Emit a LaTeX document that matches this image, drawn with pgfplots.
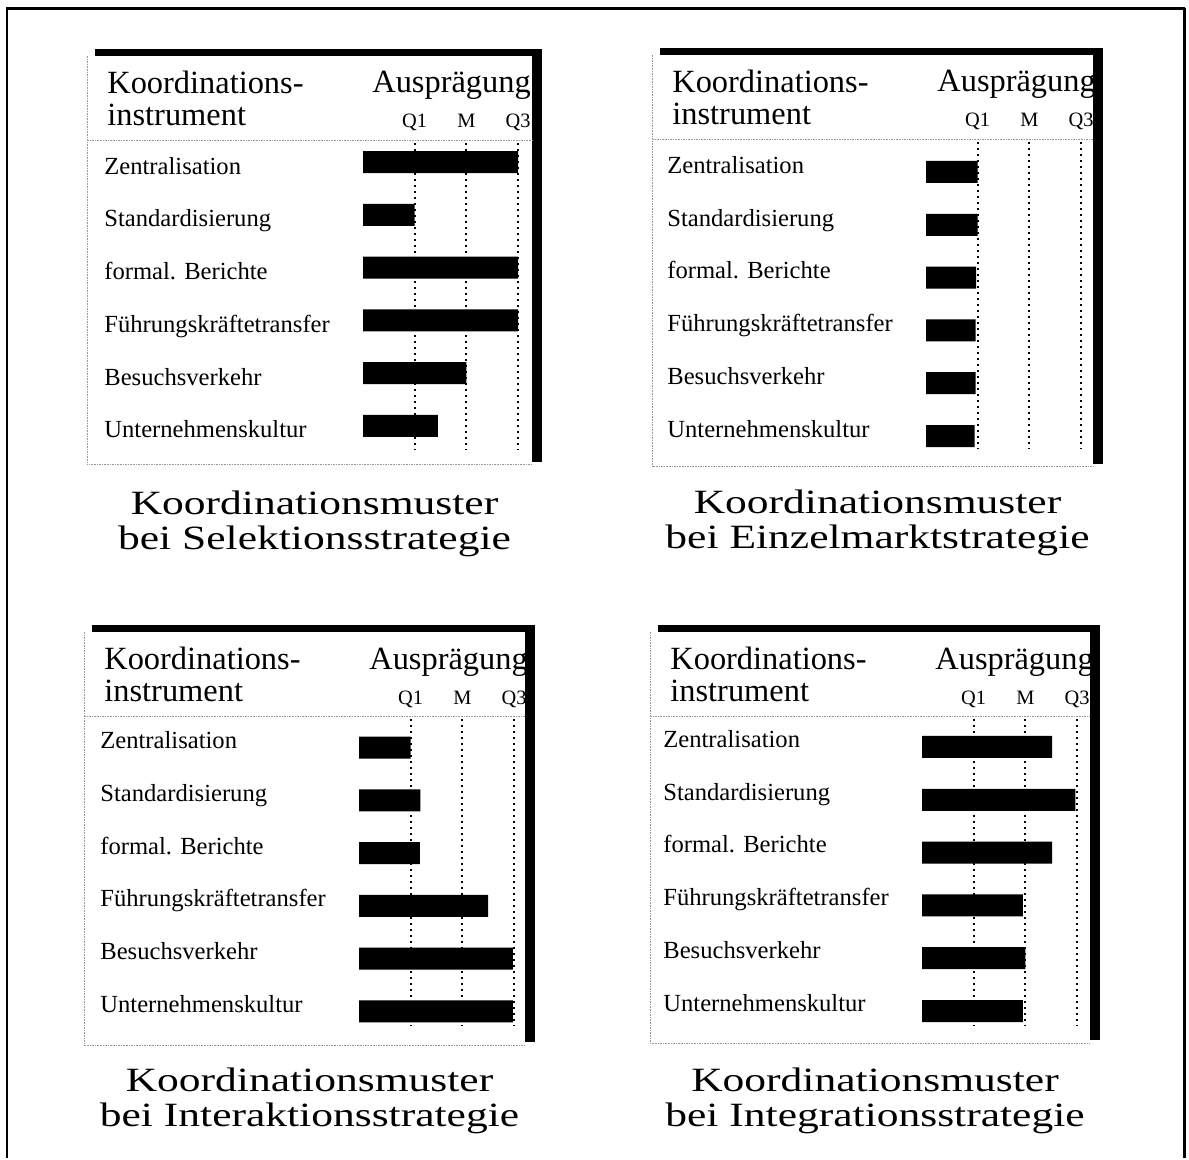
\documentclass[border=0pt]{standalone}
\usepackage{fontspec}
\setmainfont{Liberation Serif}
\newfontfamily\titlefont[FakeStretch=1.28]{Liberation Serif}
\usepackage{pgfplots}
\pgfplotsset{compat=1.18}

% 1 px of the reference = 0.5pt
\pgfplotsset{
  panel/.style={
    scale only axis, width=77.5pt, height=153.5pt,
    anchor=north west, clip=false,
    xmin=0, xmax=3,
    xtick={1,2,3}, xticklabels={Q1,M,Q3}, xticklabel pos=upper,
    y dir=reverse, ytick={1,...,6},
    yticklabels={Zentralisation,Standardisierung,formal. Berichte,%
      Führungskräftetransfer,Besuchsverkehr,Unternehmenskultur},
    axis line style={draw=none}, major tick length=0pt,
    xmajorgrids,
    major grid style={black, line width=1pt, dash pattern=on 1pt off 2pt},
    xbar, bar width=11pt,
    xticklabel style={anchor=base, yshift=7.5pt, inner sep=0pt,
      font=\fontsize{10.2}{12}\selectfont},
    yticklabel style={anchor=base west, xshift=-129.5pt, inner sep=0pt,
      font=\fontsize{12.3}{14}\selectfont},
  },
  bars/.style={fill=black, draw=none},
}

\tikzset{
  boxline/.style={gray!80, line width=0.5pt, dash pattern=on 0.8pt off 0.5pt},
  hdr/.style={inner sep=0pt, font=\fontsize{16.2}{18}\selectfont},
  ttl/.style={inner sep=0pt, font=\titlefont\fontsize{17}{18}\selectfont},
}

% #1 left, #2 top, #3 right, #4 bottom (px), #5 #6 title lines
\newcommand{\panelframe}[6]{%
  \fill ({#1+8},{#2}) rectangle ({#3},{#2+7});
  \fill ({#3-10},{#2}) rectangle ({#3},{#4-3});
  \draw[boxline] ({#1},{#2+7}) -- ({#1},{#4}) -- ({#3-10},{#4});
  \draw[boxline] ({#1},{#2+92}) -- ({#3-10},{#2+92});
  \node[hdr, anchor=base west] at ({#1+20},{#2+45}) {Koordinations-};
  \node[hdr, anchor=base west] at ({#1+20},{#2+77}) {instrument};
  \node[hdr, anchor=base west] at ({#1+285},{#2+44}) {Ausprägung};
  \node[ttl, anchor=base] at ({(#1+#3)/2},{#2+466}) {#5};
  \node[ttl, anchor=base] at ({(#1+#3)/2},{#2+501}) {#6};
}

\begin{document}
\begin{tikzpicture}

% Selektionsstrategie
\begin{axis}[panel, at={({363*0.5pt},{-143*0.5pt})},
  ymin=0.640, ymax=6.455, yticklabel style={yshift=-6pt}]
\addplot[bars] coordinates {(3.0,1) (1.0,2) (3.0,3) (3.0,4) (2.0,5) (1.45,6)};
\end{axis}

% Einzelmarktstrategie
\begin{axis}[panel, at={({926*0.5pt},{-142*0.5pt})},
  ymin=0.432, ymax=6.246, yticklabel style={yshift=-0.65pt}]
\addplot[bars] coordinates {(1.0,1) (1.0,2) (0.97,3) (0.96,4) (0.96,5) (0.94,6)};
\end{axis}

% Interaktionsstrategie
\begin{axis}[panel, at={({359*0.5pt},{-719*0.5pt})},
  ymin=0.460, ymax=6.275, yticklabel style={yshift=-0.45pt}]
\addplot[bars] coordinates {(1.0,1) (1.19,2) (1.18,3) (2.5,4) (2.98,5) (2.98,6)};
\end{axis}

% Integrationsstrategie
\begin{axis}[panel, at={({922*0.5pt},{-719*0.5pt})},
  ymin=0.470, ymax=6.284, yticklabel style={yshift=-0.15pt}]
\addplot[bars] coordinates {(2.52,1) (2.97,2) (2.52,3) (1.95,4) (2.0,5) (1.95,6)};
\end{axis}

\begin{scope}[x=0.5pt, y=-0.5pt]
  \path (0,0) rectangle (1189,1158);
  % outer frame, open at the bottom
  \draw[line width=1.2pt] (7,1158) -- (7,8.5) -- (1184.5,8.5);
  \draw[line width=1.6pt] (1184.5,8.5) -- (1184.5,1158);
  \panelframe{87}{49}{542}{465}{Koordinationsmuster}{bei Selektionsstrategie}
  \panelframe{652}{48}{1103}{467}{Koordinationsmuster}{bei Einzelmarktstrategie}
  \panelframe{84}{625}{535}{1045}{Koordinationsmuster}{bei Interaktionsstrategie}
  \panelframe{650}{625}{1100}{1043}{Koordinationsmuster}{bei Integrationsstrategie}
\end{scope}

\end{tikzpicture}
\end{document}
